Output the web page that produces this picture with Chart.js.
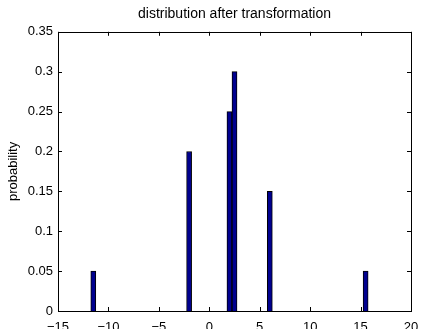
<!DOCTYPE html>
<html>
<head>
<meta charset="utf-8">
<script src="https://cdn.jsdelivr.net/npm/chart.js@4.4.1/dist/chart.umd.min.js"></script>
<style>
  html, body { margin: 0; padding: 0; background: #fff; }
  #wrap { width: 421px; height: 329px; }
</style>
</head>
<body>
<div id="wrap"><canvas id="dist-chart"></canvas></div>
<script>
// values
const binCenters = [-11.5, -2, 2, 2.5, 6, 15.5];
const probabilities = [0.05, 0.2, 0.25, 0.3, 0.15, 0.05];
const xTicks = [-15, -10, -5, 0, 5, 10, 15, 20];
const yTicks = [0, 0.05, 0.1, 0.15, 0.2, 0.25, 0.3, 0.35];

const FONT = 'Liberation Sans, Arial, Helvetica, sans-serif';

// matlab style box with ticks pointing inward
const boxTicks = {
  id: 'boxTicks',
  afterDraw(chart) {
    const { ctx, chartArea: a, scales: { x, y } } = chart;
    const len = 4;
    ctx.save();
    ctx.strokeStyle = '#000';
    ctx.lineWidth = 1;
    ctx.beginPath();
    xTicks.forEach(v => {
      const px = Math.round(x.getPixelForValue(v)) + 0.5;
      ctx.moveTo(px, a.bottom); ctx.lineTo(px, a.bottom - len);
      ctx.moveTo(px, a.top); ctx.lineTo(px, a.top + len);
    });
    yTicks.forEach(v => {
      const py = Math.round(y.getPixelForValue(v)) + 0.5;
      ctx.moveTo(a.left, py); ctx.lineTo(a.left + len, py);
      ctx.moveTo(a.right, py); ctx.lineTo(a.right - len, py);
    });
    ctx.stroke();
    ctx.strokeRect(Math.round(a.left) + 0.5, Math.round(a.top) + 0.5,
      Math.round(a.right - a.left), Math.round(a.bottom - a.top));
    ctx.restore();
  }
};

const ctx = document.getElementById('dist-chart').getContext('2d');
new Chart(ctx, {
  type: 'bar',
  data: {
    datasets: [{
      label: 'probability',
      data: binCenters.map((c, i) => ({ x: c, y: probabilities[i] })),
      backgroundColor: '#00008f',
      borderColor: '#000',
      borderWidth: 1,
      barPercentage: 1,
      categoryPercentage: 1
    }]
  },
  options: {
    responsive: true,
    maintainAspectRatio: false,
    animation: false,
    layout: { padding: { left: 0, right: 10, top: 0, bottom: 0 } },
    plugins: {
      legend: { display: false },
      tooltip: { enabled: false },
      title: {
        display: true,
        fullSize: false,
        text: 'distribution after transformation',
        color: '#000',
        font: { family: FONT, size: 14, weight: 'normal', lineHeight: 1.2 },
        padding: { top: 6, bottom: 9 }
      }
    },
    scales: {
      x: {
        type: 'linear',
        offset: false,
        min: -15,
        max: 20,
        afterBuildTicks: s => { s.ticks = xTicks.map(v => ({ value: v })); },
        afterFit: s => { s.height = 18; },
        grid: { display: false },
        border: { display: false },
        ticks: {
          color: '#000', padding: 1, maxRotation: 0,
          font: { family: FONT, size: 13 },
          callback: v => v < 0 ? '\u2212' + Math.abs(v) : String(v)
        }
      },
      y: {
        min: 0,
        max: 0.35,
        afterBuildTicks: s => { s.ticks = yTicks.map(v => ({ value: v })); },
        afterFit: s => { s.width = 58; },
        grid: { display: false, drawTicks: false },
        border: { display: false },
        title: {
          display: true,
          text: 'probability',
          color: '#000',
          font: { family: FONT, size: 13 },
          padding: { top: 6, bottom: 0 }
        },
        ticks: {
          color: '#000', padding: 5,
          font: { family: FONT, size: 13 },
          callback: v => String(v)
        }
      }
    }
  },
  plugins: [boxTicks]
});
</script>
</body>
</html>
